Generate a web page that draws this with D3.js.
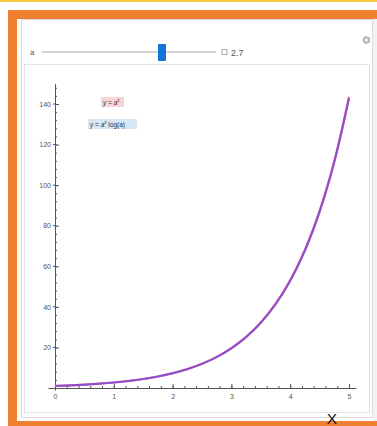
<!DOCTYPE html>
<html>
<head>
<meta charset="utf-8">
<script src="https://cdn.jsdelivr.net/npm/d3@7"></script>
<style>
  html, body { margin: 0; padding: 0; background: #fff; }
  svg { display: block; font-family: "Liberation Sans", Arial, sans-serif; }
</style>
</head>
<body>
<svg id="chart" width="377" height="426"></svg>
<script>
// Parameter of the exponential family
const baseA = 2.7;
const sliderRange = [1, 4];
// Sampled x positions for the curves
const xSamples = [0, 0.25, 0.5, 0.75, 1, 1.25, 1.5, 1.75, 2, 2.25, 2.5, 2.75, 3, 3.25, 3.5, 3.75, 4, 4.25, 4.5, 4.75, 5];
// y = a^x at the sample points (a = 2.7)
const powerValues = [1.00, 1.28, 1.64, 2.11, 2.70, 3.46, 4.44, 5.69, 7.29, 9.34, 11.98, 15.35, 19.68, 25.23, 32.34, 41.45, 53.14, 68.12, 87.32, 111.93, 143.49];
// y = a^x log(a) at the same points
const derivValues = [0.99, 1.27, 1.63, 2.09, 2.68, 3.44, 4.41, 5.65, 7.24, 9.28, 11.90, 15.25, 19.55, 25.06, 32.12, 41.17, 52.78, 67.66, 86.73, 111.18, 142.52];
// Axis ticks
const xTicks = [0, 1, 2, 3, 4, 5];
const yTicks = [20, 40, 60, 80, 100, 120, 140];
const legendLabels = ["y = a", "y = a", " log(a)"];

const svg = d3.select("#chart");

// top accent line and orange frame
svg.append("rect").attr("x", 0).attr("y", 0).attr("width", 377).attr("height", 2).attr("fill", "#f6c945");
svg.append("rect").attr("x", 8).attr("y", 10).attr("width", 369).attr("height", 416).attr("fill", "#ef7f31");
svg.append("rect").attr("x", 17).attr("y", 19).attr("width", 360).attr("height", 402).attr("fill", "#fff");

// outer control panel and inner plot panel
svg.append("rect").attr("x", 21.5).attr("y", 19.5).attr("width", 351).attr("height", 398)
  .attr("fill", "#fff").attr("stroke", "#dcdcdc").attr("stroke-width", 1);
svg.append("rect").attr("x", 24.5).attr("y", 64.5).attr("width", 345).attr("height", 348)
  .attr("fill", "#fff").attr("stroke", "#e2e2e2").attr("stroke-width", 1);

// right gutter strip
svg.append("rect").attr("x", 373).attr("y", 19).attr("width", 4).attr("height", 402).attr("fill", "#f3f3f3");

// slider control
const sx = d3.scaleLinear().domain(sliderRange).range([42, 216]);
svg.append("text").attr("x", 30).attr("y", 55).attr("font-size", 8).attr("fill", "#555").text("a");
svg.append("line").attr("x1", sx(sliderRange[0])).attr("x2", sx(sliderRange[1])).attr("y1", 52).attr("y2", 52)
  .attr("stroke", "#d4d4d4").attr("stroke-width", 2);
svg.append("rect").attr("x", 158).attr("y", 44).attr("width", 8).attr("height", 17).attr("rx", 1)
  .attr("fill", "#1273d9");
svg.append("rect").attr("x", 222).attr("y", 49.5).attr("width", 5).attr("height", 5)
  .attr("fill", "none").attr("stroke", "#aaa").attr("stroke-width", 1);
svg.append("text").attr("x", 231).attr("y", 55.5).attr("font-size", 9).attr("fill", "#555").text(baseA);
svg.append("circle").attr("cx", 366.5).attr("cy", 40).attr("r", 3.8).attr("fill", "#b4b4b4");
svg.append("path").attr("d", "M364.5,40H368.5M366.5,38V42").attr("stroke", "#fff").attr("stroke-width", 1);

// plot scales
const x = d3.scaleLinear().domain([0, 5]).range([55, 349]);
const y = d3.scaleLinear().domain([0, 140]).range([388, 104]);

// axis lines extend slightly beyond data range
const xAxisScale = x.copy().domain([-0.12, 5.12]).range([x(-0.12), x(5.12)]);
const yAxisScale = y.copy().domain([-1, 150]).range([y(-1), y(150)]);

const tickStyle = g => {
  g.selectAll("path.domain").attr("stroke", "#555").attr("stroke-width", 1);
  g.selectAll(".tick line").attr("stroke", "#555");
  g.selectAll(".tick text").attr("fill", "#555").attr("font-size", 7).attr("font-family", "Liberation Sans, Arial, sans-serif");
};

// minor ticks
svg.append("g").attr("transform", `translate(0,${y(0)})`)
  .call(d3.axisBottom(xAxisScale).tickValues(d3.range(0, 5.01, 0.2)).tickSize(-2).tickSizeOuter(0).tickFormat(""))
  .call(tickStyle);
svg.append("g").attr("transform", `translate(${x(0)},0)`)
  .call(d3.axisLeft(yAxisScale).tickValues(d3.range(4, 149, 4)).tickSize(-2).tickSizeOuter(0).tickFormat(""))
  .call(tickStyle);

// major ticks
svg.append("g").attr("transform", `translate(0,${y(0)})`)
  .call(d3.axisBottom(xAxisScale).tickValues(xTicks).tickSize(-4).tickSizeOuter(0).tickPadding(6).tickFormat(d3.format("d")))
  .call(tickStyle)
  .call(g => g.select("path.domain").remove());
svg.append("g").attr("transform", `translate(${x(0)},0)`)
  .call(d3.axisLeft(yAxisScale).tickValues(yTicks).tickSize(-4).tickSizeOuter(0).tickPadding(4).tickFormat(d3.format("d")))
  .call(tickStyle)
  .call(g => g.select("path.domain").remove());
// small outward stubs at major ticks
svg.append("g").selectAll("line").data(yTicks).join("line")
  .attr("x1", x(0) - 2).attr("x2", x(0)).attr("y1", d => y(d)).attr("y2", d => y(d)).attr("stroke", "#555");

// curves
const line = vals => d3.line().curve(d3.curveCatmullRom)
  .x((d, i) => x(xSamples[i])).y(d => y(d))(vals);
svg.append("path").attr("d", line(powerValues)).attr("fill", "none")
  .attr("stroke", "#d9508c").attr("stroke-width", 2.2);
svg.append("path").attr("d", line(derivValues)).attr("fill", "none")
  .attr("stroke", "#7a4fe0").attr("stroke-width", 2).attr("opacity", 0.8);

// legend
const leg = svg.append("g").attr("font-size", 6.5).attr("font-style", "italic").attr("fill", "#333");
leg.append("rect").attr("x", 101).attr("y", 97).attr("width", 23).attr("height", 10).attr("fill", "#f8d3d6");
const t1 = leg.append("text").attr("x", 103).attr("y", 104.5);
t1.append("tspan").text(legendLabels[0]);
t1.append("tspan").attr("dy", -2.5).attr("font-size", 4.5).text("x");
leg.append("rect").attr("x", 88).attr("y", 119).attr("width", 49).attr("height", 10).attr("fill", "#d5e6f5");
const t2 = leg.append("text").attr("x", 90).attr("y", 126.5);
t2.append("tspan").text(legendLabels[1]);
t2.append("tspan").attr("dy", -2.5).attr("font-size", 4.5).text("x");
t2.append("tspan").attr("dy", 2.5).attr("font-style", "normal").text(legendLabels[2]);

// axis caption
svg.append("text").attr("x", 332).attr("y", 423.5).attr("text-anchor", "middle")
  .attr("font-size", 15.5).attr("fill", "#111").text("X");
</script>
</body>
</html>
